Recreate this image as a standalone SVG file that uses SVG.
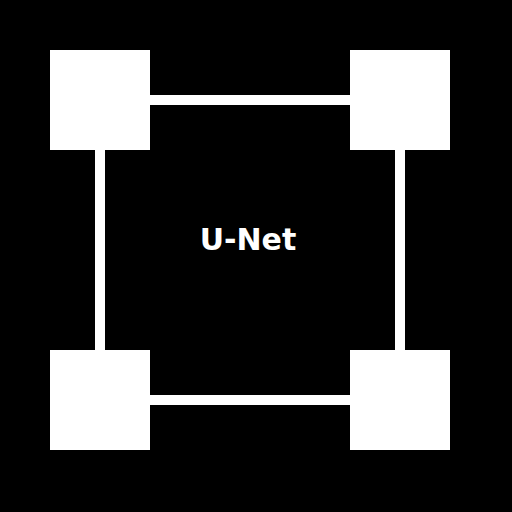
<svg xmlns="http://www.w3.org/2000/svg" width="512" height="512" viewBox="0 0 512 512">
<style>
.box{fill:#fff}
.edge{stroke:#fff;stroke-width:10;fill:none}
.lbl{font-family:"DejaVu Sans",sans-serif;font-weight:bold;font-size:30px;fill:#fff;text-anchor:middle}
</style>
<rect width="512" height="512" fill="#000"/>
<g id="connectors">
<line class="edge" x1="150" y1="100" x2="350" y2="100"/>
<line class="edge" x1="150" y1="400" x2="350" y2="400"/>
<line class="edge" x1="100" y1="150" x2="100" y2="350"/>
<line class="edge" x1="400" y1="150" x2="400" y2="350"/>
</g>
<g id="node-tl"><rect class="box" x="50" y="50" width="100" height="100"/></g>
<g id="node-tr"><rect class="box" x="350" y="50" width="100" height="100"/></g>
<g id="node-bl"><rect class="box" x="50" y="350" width="100" height="100"/></g>
<g id="node-br"><rect class="box" x="350" y="350" width="100" height="100"/></g>
<g id="label"><text class="lbl" x="248" y="250">U-Net</text></g>
</svg>
